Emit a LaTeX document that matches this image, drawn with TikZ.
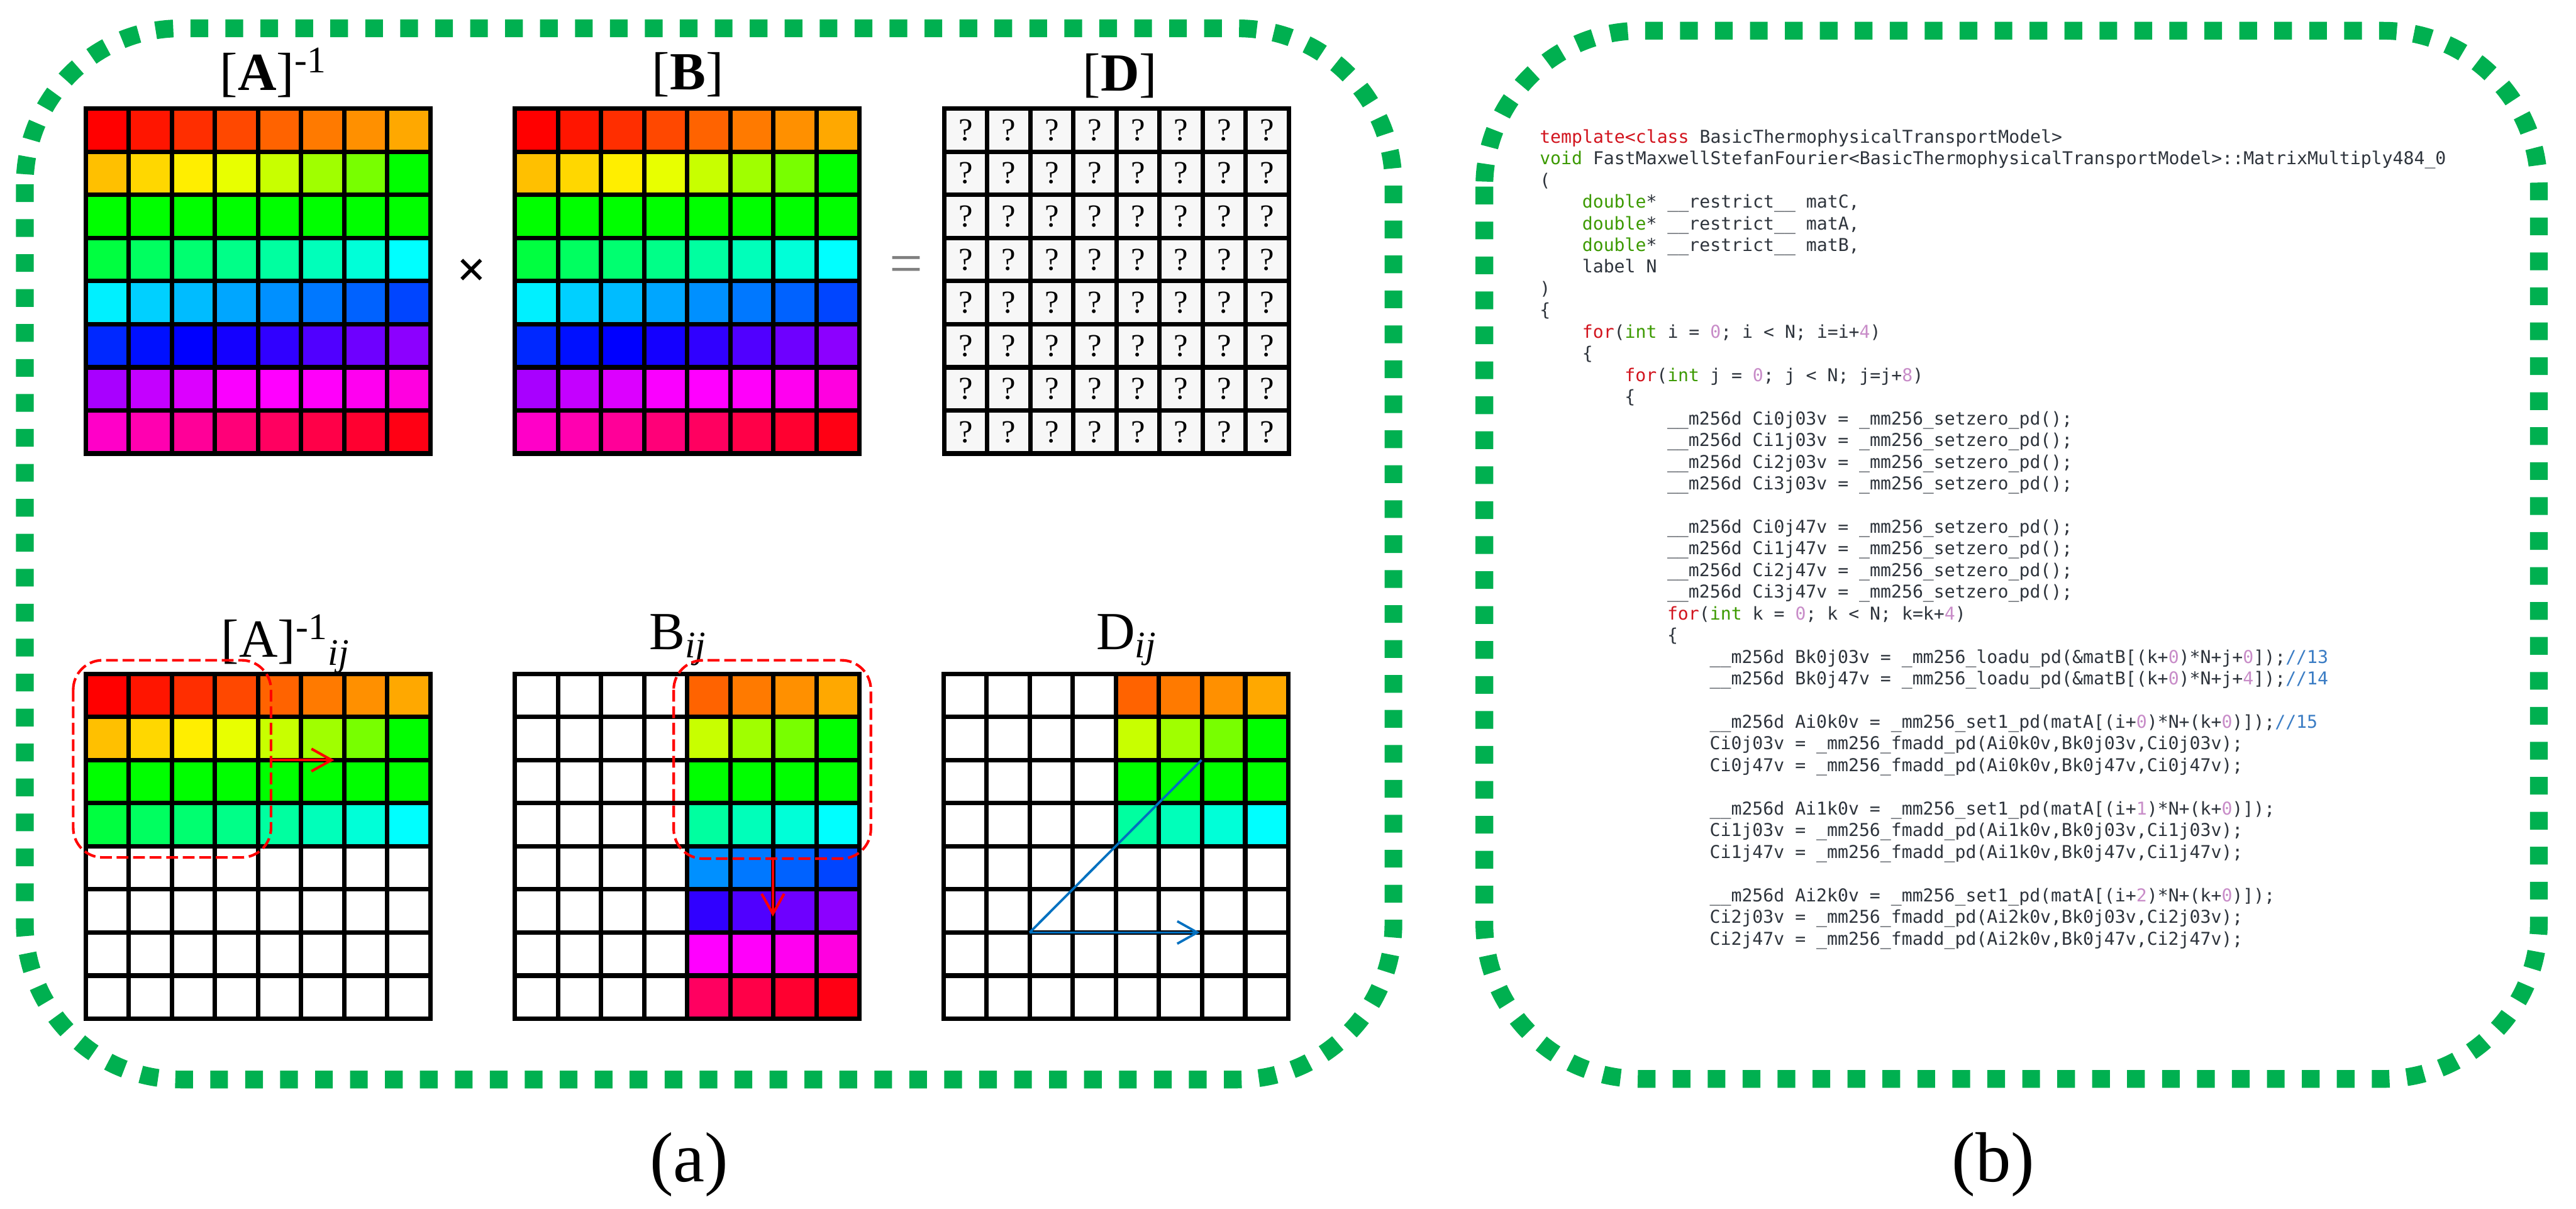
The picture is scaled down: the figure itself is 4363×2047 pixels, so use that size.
\documentclass[tikz,border=0pt]{standalone}
\usepackage{fontspec}
\setmainfont{Liberation Serif}
\newfontfamily\codefont{DejaVu Sans Mono}
\usetikzlibrary{arrows.meta}
\definecolor{boxgreen}{HTML}{00B050}
\definecolor{codetext}{HTML}{2E343C}
\definecolor{kwred}{HTML}{D2141E}
\definecolor{kwgreen}{HTML}{3C9A00}
\definecolor{numpink}{HTML}{C88CC8}
\definecolor{cmtblue}{HTML}{3A7CC4}
\definecolor{arrowblue}{HTML}{0070C0}
\definecolor{eqgrey}{HTML}{7F7F7F}
\definecolor{qcell}{HTML}{F7F7F7}
\newcommand\kr[1]{\textcolor{kwred}{#1}}
\newcommand\kg[1]{\textcolor{kwgreen}{#1}}
\newcommand\kn[1]{\textcolor{numpink}{#1}}
\newcommand\kc[1]{\textcolor{cmtblue}{#1}}
\newcommand\codeline[3]{\node[code,anchor=base west] (code#1) at ({2607+#2*18.0},{242+#1*36.7}) {#3};}
% #1 x0, #2 y0, #3 rowmax (exclusive), #4 colmin, #5 other fill
\newcommand\colormatrix[5]{%
  \foreach \hexlist [count=\r from 0] in {%
    {FF0000,FF1500,FF2E00,FF4800,FF6300,FF7A00,FF9000,FFA800},
    {FFC000,FFD700,FFEE00,E8FF00,C8FF00,A0FF00,78FF00,00FF00},
    {00FF00,00FF00,00FF00,00FF00,00FF00,00FF00,00FF00,00FF00},
    {00FF40,00FF60,00FF70,00FF88,00FFA0,00FFBA,00FFD8,00FFFF},
    {00F0FF,00D0FF,00BCFF,00A6FF,0090FF,0078FF,0062FF,0045FF},
    {0028FF,0010FF,0000FF,1400FF,3000FF,5000FF,6E00FF,8C00FF},
    {A800FF,C400FF,DC00FF,FA00FF,FF00FF,FF00FA,FF00F0,FF00E0},
    {FF00C8,FF00B0,FF0098,FF0078,FF0060,FF0048,FF0030,FF0014}} {%
    \foreach \hex [count=\c from 0] in \hexlist {%
      \ifnum\r<#3 \ifnum\c<#4 \colorlet{cellc}{#5}\else\definecolor{cellc}{HTML}{\hex}\fi
      \else\colorlet{cellc}{#5}\fi
      \fill[cellc] ({#1+\c*73},{#2+\r*73}) rectangle ++(73,73);
    }
  }
}
\newcommand\gridlines[2]{%
  \foreach \i in {1,...,7} {
    \draw[gridl] ({#1+\i*73},#2) -- ({#1+\i*73},{#2+584});
    \draw[gridl] (#1,{#2+\i*73}) -- ({#1+584},{#2+\i*73});
  }
  \draw[gridl] (#1,#2) rectangle ({#1+584},{#2+584});
}
\begin{document}
\begin{tikzpicture}[x=0.25pt,y=-0.25pt,
  greenbox/.style={draw=boxgreen, line width=7.5pt, dash pattern=on 7.5pt off 7.3pt, rounded corners=66pt},
  gridl/.style={line width=1.9pt},
  lab/.style={font=\fontsize{22.7}{26}\selectfont, inner sep=0},
  captext/.style={font=\fontsize{30}{34}\selectfont, inner sep=0},
  code/.style={font=\codefont\fontsize{7.5}{9}\selectfont, text=codetext, inner sep=0},
  qmark/.style={font=\fontsize{13.5}{16}\selectfont, inner sep=0},
  reddash/.style={draw=red, line width=1.1pt, dash pattern=on 5pt off 2pt, rounded corners=12.5pt},
  redarrow/.style={draw=red, line width=1.1pt, -{Straight Barb[length=8.5pt,width=9.5pt]}},
  blueline/.style={draw=arrowblue, line width=1pt},
  bluearrow/.style={draw=arrowblue, line width=1pt, -{Straight Barb[length=8.5pt,width=9.5pt]}}]
\useasboundingbox (0,0) rectangle (4363,2047);
\fill[white] (0,0) rectangle (4363,2047);

% outer boxes
\draw[greenbox] (42,48) rectangle (2360,1828);
\draw[greenbox] (2514,52) rectangle (4300,1827);

% top matrices
\colormatrix{145}{184}{8}{0}{white}
\gridlines{145}{184}
\colormatrix{872}{184}{8}{0}{white}
\gridlines{872}{184}
\fill[qcell] (1599,184) rectangle (2183,768);
\foreach \r in {0,...,7} \foreach \c in {0,...,7}
  \node[qmark] (q-\r-\c) at ({1599+36.5+\c*73},{184+36.5+\r*73}) {?};
\gridlines{1599}{184}

% top labels and operators
\node[lab,anchor=base west] (labA) at (372,153) {[\textbf{A}]\textsuperscript{-1}};
\node[lab,anchor=base] (labB) at (1165,152) {[\textbf{B}]};
\node[lab,anchor=base] (labD) at (1897,154) {[\textbf{D}]};
\node[lab,font=\bfseries\fontsize{22}{26}\selectfont] (times) at (799,462) {×};
\node[lab,text=eqgrey,font=\fontsize{25}{28}\selectfont] (equals) at (1535,457) {=};

% bottom matrices
\colormatrix{145}{1141}{4}{0}{white}
\gridlines{145}{1141}
\colormatrix{872}{1141}{8}{4}{white}
\gridlines{872}{1141}
\colormatrix{1598}{1141}{4}{4}{white}
\gridlines{1598}{1141}

% bottom labels
\node[lab,anchor=base west] (labAij) at (374,1113) {[A]\textsuperscript{-1}\textsubscript{\textit{ij}}};
\node[lab,anchor=base west] (labBij) at (1099,1100) {B\textsubscript{\textit{ij}}};
\node[lab,anchor=base west] (labDij) at (1856,1100) {D\textsubscript{\textit{ij}}};

% red dashed blocks and arrows
\draw[reddash] (124,1118) rectangle (459,1452);
\draw[reddash] (1141,1118) rectangle (1475,1454);
\coordinate (ra1) at (459,1287);
\coordinate (ra2) at (566,1287);
\draw[redarrow] (ra1) -- (ra2);
\coordinate (rb1) at (1309,1454);
\coordinate (rb2) at (1309,1552);
\draw[redarrow] (rb1) -- (rb2);

% blue arrows in D_ij
\coordinate (bd0) at (1744,1579);
\coordinate (bd1) at (2035,1287);
\coordinate (bd2) at (2032,1579);
\draw[blueline] (bd1) -- (bd0);
\draw[bluearrow] (bd0) -- (bd2);

% captions
\node[captext] (capa) at (1167,1972) {(a)};
\node[captext] (capb) at (3376,1972) {(b)};

% code
\codeline{0}{0}{\kr{template<class} BasicThermophysicalTransportModel>}
\codeline{1}{0}{\kg{void} FastMaxwellStefanFourier<BasicThermophysicalTransportModel>::MatrixMultiply484\_0}
\codeline{2}{0}{(}
\codeline{3}{4}{\kg{double}* \_\_restrict\_\_ matC,}
\codeline{4}{4}{\kg{double}* \_\_restrict\_\_ matA,}
\codeline{5}{4}{\kg{double}* \_\_restrict\_\_ matB,}
\codeline{6}{4}{label N}
\codeline{7}{0}{)}
\codeline{8}{0}{\{}
\codeline{9}{4}{\kr{for}(\kg{int} i = \kn{0}; i < N; i=i+\kn{4})}
\codeline{10}{4}{\{}
\codeline{11}{8}{\kr{for}(\kg{int} j = \kn{0}; j < N; j=j+\kn{8})}
\codeline{12}{8}{\{}
\codeline{13}{12}{\_\_m256d Ci0j03v = \_mm256\_setzero\_pd();}
\codeline{14}{12}{\_\_m256d Ci1j03v = \_mm256\_setzero\_pd();}
\codeline{15}{12}{\_\_m256d Ci2j03v = \_mm256\_setzero\_pd();}
\codeline{16}{12}{\_\_m256d Ci3j03v = \_mm256\_setzero\_pd();}
\codeline{18}{12}{\_\_m256d Ci0j47v = \_mm256\_setzero\_pd();}
\codeline{19}{12}{\_\_m256d Ci1j47v = \_mm256\_setzero\_pd();}
\codeline{20}{12}{\_\_m256d Ci2j47v = \_mm256\_setzero\_pd();}
\codeline{21}{12}{\_\_m256d Ci3j47v = \_mm256\_setzero\_pd();}
\codeline{22}{12}{\kr{for}(\kg{int} k = \kn{0}; k < N; k=k+\kn{4})}
\codeline{23}{12}{\{}
\codeline{24}{16}{\_\_m256d Bk0j03v = \_mm256\_loadu\_pd(\&matB[(k+\kn{0})*N+j+\kn{0}]);\kc{//13}}
\codeline{25}{16}{\_\_m256d Bk0j47v = \_mm256\_loadu\_pd(\&matB[(k+\kn{0})*N+j+\kn{4}]);\kc{//14}}
\codeline{27}{16}{\_\_m256d Ai0k0v = \_mm256\_set1\_pd(matA[(i+\kn{0})*N+(k+\kn{0})]);\kc{//15}}
\codeline{28}{16}{Ci0j03v = \_mm256\_fmadd\_pd(Ai0k0v,Bk0j03v,Ci0j03v);}
\codeline{29}{16}{Ci0j47v = \_mm256\_fmadd\_pd(Ai0k0v,Bk0j47v,Ci0j47v);}
\codeline{31}{16}{\_\_m256d Ai1k0v = \_mm256\_set1\_pd(matA[(i+\kn{1})*N+(k+\kn{0})]);}
\codeline{32}{16}{Ci1j03v = \_mm256\_fmadd\_pd(Ai1k0v,Bk0j03v,Ci1j03v);}
\codeline{33}{16}{Ci1j47v = \_mm256\_fmadd\_pd(Ai1k0v,Bk0j47v,Ci1j47v);}
\codeline{35}{16}{\_\_m256d Ai2k0v = \_mm256\_set1\_pd(matA[(i+\kn{2})*N+(k+\kn{0})]);}
\codeline{36}{16}{Ci2j03v = \_mm256\_fmadd\_pd(Ai2k0v,Bk0j03v,Ci2j03v);}
\codeline{37}{16}{Ci2j47v = \_mm256\_fmadd\_pd(Ai2k0v,Bk0j47v,Ci2j47v);}
\end{tikzpicture}
\end{document}
